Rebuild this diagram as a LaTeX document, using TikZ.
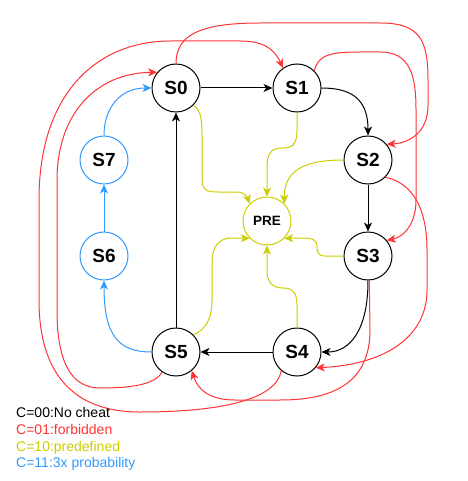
\documentclass[tikz,border=0pt]{standalone}
\usepackage{fontspec}
\setmainfont{Liberation Sans}
\usetikzlibrary{arrows.meta}
\definecolor{cred}{HTML}{FF3333}
\definecolor{cyel}{HTML}{CCCC00}
\definecolor{cblue}{HTML}{3399FF}
\begin{document}
\begin{tikzpicture}[x=1pt,y=-1pt,
  state/.style={circle,draw,line width=1pt,minimum size=48pt,inner sep=0pt,
    font=\fontsize{19}{19}\selectfont\bfseries},
  prestate/.style={state,draw=cyel,font=\fontsize{13.5}{13.5}\selectfont\bfseries},
  bluestate/.style={state,draw=cblue},
  arr/.style={-{Stealth[length=9pt,width=8pt,inset=2.5pt]},line width=1pt},
  eblack/.style={arr,color=black},
  ered/.style={arr,color=cred},
  eyel/.style={arr,color=cyel},
  eblue/.style={arr,color=cblue},
  legend/.style={anchor=base west,inner sep=0pt,font=\fontsize{14}{14}\selectfont}]
\useasboundingbox (0,0) rectangle (467,481);
% nodes
\node[state] (s0) at (176,88) {S0};
\node[state] (s1) at (297,88) {S1};
\node[state] (s2) at (368,160) {S2};
\node[state] (s3) at (368,256) {S3};
\node[state] (s4) at (297,352) {S4};
\node[state] (s5) at (176,352) {S5};
\node[bluestate] (s6) at (104,256) {S6};
\node[bluestate] (s7) at (104,160) {S7};
\node[prestate] (pre) at (267,221) {PRE};
% black
\draw[eblack] (s0) -- (s1);
\draw[eblack] (s1.east) .. controls (350,88) and (368,98) .. (s2.north);
\draw[eblack] (s2) -- (s3);
\draw[eblack] (s3.south) .. controls (368,330) and (350,352) .. (s4.east);
\draw[eblack] (s4) -- (s5);
\draw[eblack] (s5) -- (s0);
% blue
\draw[eblue] (s5.west) .. controls (118,352) and (104,335) .. (s6.south);
\draw[eblue] (s6) -- (s7);
\draw[eblue] (s7.north) .. controls (104,108) and (120,88) .. (s0.west);
% yellow
\draw[eyel] (s0.-45) .. controls (201,110) and (202,120) .. (202,135) -- (202,178)
  .. controls (202,190) and (206,192) .. (218,192) -- (236,192)
  .. controls (244,192) and (247,196) .. (pre.135);
\draw[eyel] (s1.south) -- (297,130) .. controls (297,145) and (292,148) .. (282,148)
  .. controls (270,148) and (267,155) .. (267,168) -- (pre.north);
\draw[eyel] (s2.west) .. controls (305,160) and (284,170) .. (pre.45);
\draw[eyel] (s3.west) -- (325,256) .. controls (318,256) and (317,252) .. (317,246)
  .. controls (317,240) and (312,238) .. (305,238) -- (pre.-45);
\draw[eyel] (s4.north) -- (297,305) .. controls (297,292) and (292,288) .. (283,288)
  .. controls (272,288) and (267,282) .. (267,270) -- (pre.south);
\draw[eyel] (s5.45) .. controls (205,330) and (212,320) .. (212,300) -- (212,262)
  .. controls (212,245) and (220,238) .. (232,238) -- (pre.-135);
% red
\draw[ered] (s0.north) .. controls (176,35) and (200,23) .. (260,23) -- (380,23)
  .. controls (420,23) and (428,40) .. (428,80) -- (428,105)
  .. controls (428,132) and (410,143) .. (s2.40);
\draw[ered] (s4.-130) .. controls (276,400) and (220,412) .. (140,412)
  .. controls (70,412) and (39,370) .. (39,300) -- (39,200)
  .. controls (39,90) and (100,41) .. (170,41) -- (240,41)
  .. controls (262,41) and (274,48) .. (s1.125);
\draw[ered] (s5.-125) .. controls (155,385) and (130,388) .. (100,388)
  .. controls (70,388) and (57,360) .. (57,310) -- (57,180)
  .. controls (57,115) and (95,73) .. (s0.140);
\draw[ered] (s1.45) .. controls (318,55) and (330,52) .. (360,52) -- (380,52)
  .. controls (410,52) and (416,75) .. (416,110) -- (416,200)
  .. controls (416,228) and (400,238) .. (s3.40);
\draw[ered] (s2.-45) .. controls (410,182) and (427,205) .. (427,250) -- (427,290)
  .. controls (427,340) and (380,365) .. (s4.-40);
\draw[ered] (s3.-87) -- (370,330) .. controls (370,385) and (330,400) .. (280,400)
  -- (235,400) .. controls (210,400) and (198,390) .. (s5.-50);
% legend
\node[legend,text=black] (l0) at (16,417) {C=00:No cheat};
\node[legend,text=cred] (l1) at (16,434) {C=01:forbidden};
\node[legend,text=cyel] (l2) at (16,451) {C=10:predefined};
\node[legend,text=cblue] (l3) at (16,467) {C=11:3x probability};
\end{tikzpicture}
\end{document}
